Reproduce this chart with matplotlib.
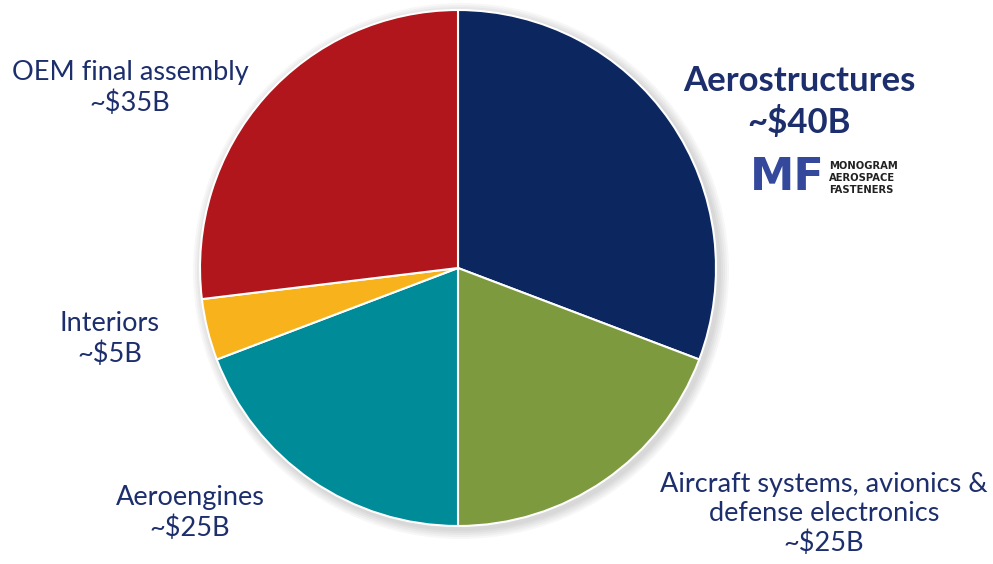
import matplotlib
matplotlib.use("Agg")
import matplotlib.pyplot as plt

categories = ["Aerostructures", "Aircraft systems, avionics &\ndefense electronics",
              "Aeroengines", "Interiors", "OEM final assembly"]
values = [40, 25, 25, 5, 35]
value_labels = ["~$40B", "~$25B", "~$25B", "~$5B", "~$35B"]
colors = ["#0c2760", "#7d9a3e", "#008b99", "#f8b31c", "#b0161b"]

W, H = 993, 564
fig = plt.figure(figsize=(W / 100, H / 100), dpi=100)
ax = fig.add_axes([0, 0, 1, 1])

cx, cy, r = 458, H - 268, 258

# soft shadow
for i in range(5):
    sh = plt.Circle((cx + 3, cy - 3), r + 2 + i * 2, color="black", alpha=0.03, lw=0, zorder=0)
    ax.add_patch(sh)

ax.pie(values, colors=colors, startangle=90, counterclock=False,
       center=(cx, cy), radius=r, frame=True,
       wedgeprops=dict(edgecolor="white", linewidth=1.5))
ax.set_xlim(0, W)
ax.set_ylim(0, H)
ax.set_aspect("equal")
ax.axis("off")

tc = "#1d2e6c"
fam = ["Lato", "DejaVu Sans"]

def lab(x, y, s, size=19.5, weight="normal", ls=1.22):
    ax.text(x, H - y, s, ha="center", va="center", fontsize=size, color=tc,
            family=fam, fontweight=weight, linespacing=ls)

lab(799, 102, categories[0] + "\n" + value_labels[0], size=25, weight="bold", ls=1.3)
lab(824, 514, categories[1] + "\n" + value_labels[1])
lab(190, 513, categories[2] + "\n" + value_labels[2])
lab(110, 339, categories[3] + "\n" + value_labels[3])
lab(130, 88, categories[4] + "\n" + value_labels[4])

# logo
ax.text(787, H - 178, "MF", ha="center", va="center", fontsize=32, fontweight="heavy",
        color="#34489c", family=["DejaVu Sans"])
ax.text(829, H - 178, "MONOGRAM\nAEROSPACE\nFASTENERS", ha="left", va="center",
        fontsize=7.2, fontweight="bold", color="#222222", family=["DejaVu Sans"],
        linespacing=1.25)

fig.savefig("out.png", dpi=100, facecolor="white")
